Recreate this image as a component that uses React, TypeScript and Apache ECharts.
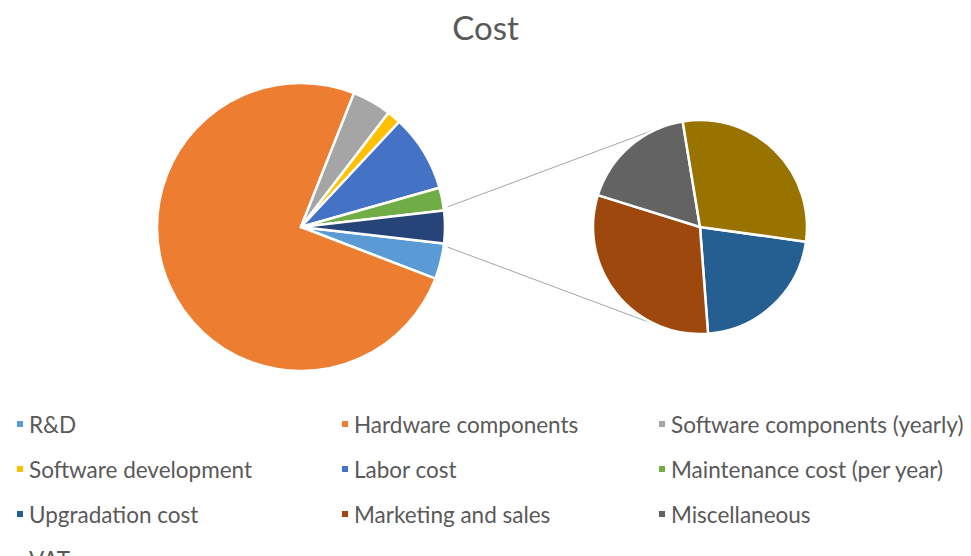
import React, { useEffect, useRef } from 'react';
import * as echarts from 'echarts';

const WIDTH = 971;
const HEIGHT = 556;
const FONT = 'Lato, "Open Sans", sans-serif';
const TEXT_COLOR = '#595959';

// First pie: individual cost items plus the grouped remainder
const primaryCategories = [
  'R&D',
  'Hardware components',
  'Software components (yearly)',
  'Software development',
  'Labor cost',
  'Maintenance cost (per year)',
];
const primaryValues = [4000, 75100, 4400, 1550, 8650, 2550];
const primaryColors = ['#5B9BD5', '#ED7D31', '#A5A5A5', '#FFC000', '#4472C4', '#70AD47'];

// Second pie: breakdown of the grouped remainder
const secondaryCategories = ['Upgradation cost', 'Marketing and sales', 'Miscellaneous', 'VAT'];
const secondaryValues = [793, 1138, 646, 1093];
const secondaryColors = ['#255E91', '#9E480E', '#636363', '#997300'];

const OTHER_NAME = 'Other';
const OTHER_COLOR = '#264478';

// Legend columns (row-major reading order of the grid)
const legendColumns = [
  ['R&D', 'Software development', 'Upgradation cost'],
  ['Hardware components', 'Labor cost', 'Marketing and sales'],
  ['Software components (yearly)', 'Maintenance cost (per year)', 'Miscellaneous'],
];
const legendOverflow = ['VAT'];

// Pie geometry (px)
const MAIN = { cx: 301, cy: 227, r: 144 };
const SUB = { cx: 700, cy: 227, r: 107 };
const SUB_START_ANGLE = -7.9;

const sum = (a: number[]) => a.reduce((s, v) => s + v, 0);

function buildOption() {
  const otherValue = sum(secondaryValues);
  const total = sum(primaryValues) + otherValue;
  const otherAngle = (otherValue / total) * 360;
  // grouped slice is the last one clockwise, centred on the 3 o'clock direction
  const mainStart = -otherAngle / 2;

  const rad = (d: number) => (d * Math.PI) / 180;
  const edge = (deg: number) => {
    const r = MAIN.r + 4;
    return [MAIN.cx + r * Math.cos(rad(deg)), MAIN.cy - r * Math.sin(rad(deg))];
  };
  const tangent = (p: number[], upper: boolean) => {
    const dx = p[0] - SUB.cx;
    const dy = p[1] - SUB.cy;
    const d = Math.hypot(dx, dy);
    const theta = Math.atan2(dy, dx);
    const alpha = Math.acos(SUB.r / d);
    const a = [theta + alpha, theta - alpha].map((t) => [
      SUB.cx + SUB.r * Math.cos(t),
      SUB.cy + SUB.r * Math.sin(t),
    ]);
    a.sort((m, n) => m[1] - n[1]);
    return upper ? a[0] : a[1];
  };
  const half = otherAngle / 2 + 1.2;
  const pTop = edge(half);
  const pBottom = edge(-half);
  const qTop = tangent(pTop, true);
  const qBottom = tangent(pBottom, false);

  const mainData = primaryCategories
    .map((name, i) => ({ name, value: primaryValues[i], itemStyle: { color: primaryColors[i] } }))
    .concat([{ name: OTHER_NAME, value: otherValue, itemStyle: { color: OTHER_COLOR } }]);
  const subData = secondaryCategories.map((name, i) => ({
    name,
    value: secondaryValues[i],
    itemStyle: { color: secondaryColors[i] },
  }));

  const legendBase = {
    orient: 'vertical' as const,
    icon: 'rect',
    itemWidth: 8,
    itemHeight: 8,
    itemGap: 21,
    padding: 0,
    selectedMode: false,
    textStyle: {
      fontFamily: FONT,
      fontSize: 22.5,
      lineHeight: 24,
      color: TEXT_COLOR,
    },
  };
  const colLefts = [15, 340, 657];

  const lineStyle = { stroke: '#A6A6A6', lineWidth: 1 };

  return {
    animation: false,
    backgroundColor: '#ffffff',
    title: {
      text: 'Cost',
      left: 'center',
      top: 10,
      padding: 0,
      textStyle: { fontFamily: FONT, fontSize: 33, fontWeight: 'normal', color: TEXT_COLOR },
    },
    legend: [
      ...legendColumns.map((data, i) => ({ ...legendBase, left: colLefts[i], top: 412, data })),
      { ...legendBase, left: colLefts[0], top: 547, data: legendOverflow },
    ],
    graphic: [
      { type: 'line', silent: true, shape: { x1: pTop[0], y1: pTop[1], x2: qTop[0], y2: qTop[1] }, style: lineStyle },
      { type: 'line', silent: true, shape: { x1: pBottom[0], y1: pBottom[1], x2: qBottom[0], y2: qBottom[1] }, style: lineStyle },
    ],
    series: [
      {
        type: 'pie',
        name: 'Cost',
        center: [MAIN.cx, MAIN.cy],
        radius: [0, MAIN.r],
        startAngle: mainStart,
        clockwise: true,
        avoidLabelOverlap: false,
        label: { show: false },
        labelLine: { show: false },
        emphasis: { scale: false },
        itemStyle: { borderColor: '#ffffff', borderWidth: 2.5 },
        data: mainData,
      },
      {
        type: 'pie',
        name: 'Other',
        center: [SUB.cx, SUB.cy],
        radius: [0, SUB.r],
        startAngle: SUB_START_ANGLE,
        clockwise: true,
        avoidLabelOverlap: false,
        label: { show: false },
        labelLine: { show: false },
        emphasis: { scale: false },
        itemStyle: { borderColor: '#ffffff', borderWidth: 2.5 },
        data: subData,
      },
    ],
  };
}

export default function App() {
  const ref = useRef<HTMLDivElement>(null);
  useEffect(() => {
    document.body.style.margin = '0';
    const chart = echarts.init(ref.current!, null, { renderer: 'svg' });
    chart.setOption(buildOption() as any);
    return () => chart.dispose();
  }, []);
  return <div ref={ref} style={{ width: WIDTH, height: HEIGHT }} />;
}
